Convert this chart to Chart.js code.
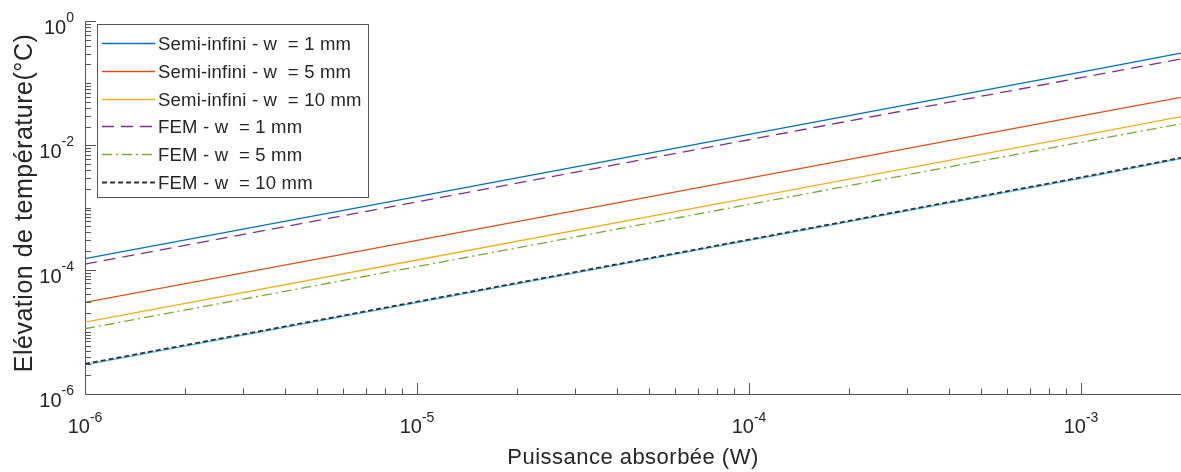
<!DOCTYPE html>
<html>
<head>
<meta charset="utf-8">
<script src="https://cdn.jsdelivr.net/npm/chart.js@4.4.1/dist/chart.umd.min.js"></script>
<style>
  body { margin: 0; background: #fff; }
  #wrap { width: 1181px; height: 472px; }
</style>
</head>
<body>
<div id="wrap"><canvas id="chart" width="1181" height="472"></canvas></div>
<script>
// puissance absorbee (W)
const powers = [1e-6, 1e-5, 1e-4, 1e-3, 2e-3];

// elevation de temperature (degC)
const semi1mm = [1.5e-4, 1.5e-3, 1.5e-2, 0.15, 0.305];
const semi5mm = [2.97e-5, 2.97e-4, 2.97e-3, 2.97e-2, 0.059];
const semi10mm = [1.43e-5, 1.43e-4, 1.43e-3, 1.43e-2, 0.029];
const fem1mm = [1.23e-4, 1.23e-3, 1.23e-2, 0.123, 0.245];
const fem5mm = [1.12e-5, 1.12e-4, 1.12e-3, 1.12e-2, 0.0222];
const fem10mm = [3.05e-6, 3.05e-5, 3.05e-4, 3.05e-3, 0.0063];
const hidden10mm = [2.95e-6, 2.95e-5, 2.95e-4, 2.95e-3, 0.0061];

const xTickExps = [-6, -5, -4, -3];
const yTickExps = [-6, -4, -2, 0];

const axisColor = "#555555";
const textColor = "#262626";

function pts(ys) {
  return powers.map((p, i) => ({ x: p, y: ys[i] }));
}

function ds(label, ys, color, dash, width) {
  return {
    label: label,
    data: pts(ys),
    borderColor: color,
    backgroundColor: color,
    borderDash: dash,
    borderWidth: width,
    pointRadius: 0,
    tension: 0,
    fill: false
  };
}

const datasets = [
  ds("Semi-infini - w  = 1 mm", semi1mm, "#0072BD", [], 1.3),
  ds("Semi-infini - w  = 5 mm", semi5mm, "#D95319", [], 1.3),
  ds("Semi-infini - w  = 10 mm", semi10mm, "#EDB120", [], 1.3),
  ds("FEM - w  = 1 mm", fem1mm, "#7E2F8E", [12, 7], 1.3),
  ds("FEM - w  = 5 mm", fem5mm, "#77AC30", [10, 4, 2, 4], 1.3),
  ds("FEM - w  = 10 mm", fem10mm, "#333333", [5, 3], 1.8),
  ds("", hidden10mm, "#4DBEEE", [], 1.2)
];

function fitText(ctx, text, font, target) {
  ctx.font = font;
  ctx.letterSpacing = "0px";
  const w = ctx.measureText(text).width;
  const sp = (target - w) / (text.length - 1);
  ctx.letterSpacing = sp.toFixed(2) + "px";
}

function powLabel(ctx, exp, px, py, align) {
  ctx.font = "20px 'Liberation Sans', Arial, sans-serif";
  const w10 = ctx.measureText("10").width;
  ctx.font = "14px 'Liberation Sans', Arial, sans-serif";
  const ex = String(exp);
  const wEx = ctx.measureText(ex).width;
  let x0;
  if (align === "x") {
    x0 = px - (w10 + wEx) / 2;
  } else {
    x0 = px - (w10 + wEx);
  }
  ctx.textAlign = "left";
  ctx.textBaseline = "alphabetic";
  ctx.font = "20px 'Liberation Sans', Arial, sans-serif";
  ctx.fillText("10", x0, py);
  ctx.font = "14px 'Liberation Sans', Arial, sans-serif";
  ctx.fillText(ex, x0 + w10, py - (align === "x" ? 11 : 12));
}

const decor = {
  id: "decor",
  afterDraw(chart) {
    const { ctx, chartArea } = chart;
    const x = chart.scales.x, y = chart.scales.y;
    ctx.save();

    // ticks pointing inward
    ctx.strokeStyle = axisColor;
    ctx.lineWidth = 1;
    ctx.beginPath();
    for (let e = -6; e <= -3; e++) {
      for (let m = 1; m <= 9; m++) {
        const v = m * Math.pow(10, e);
        if (v > x.max * 1.0001) break;
        const px = Math.round(x.getPixelForValue(v)) + 0.5;
        const len = m === 1 ? 11 : 5.5;
        ctx.moveTo(px, chartArea.bottom);
        ctx.lineTo(px, chartArea.bottom - len);
      }
    }
    for (let e = -6; e <= 0; e++) {
      for (let m = 1; m <= 9; m++) {
        const v = m * Math.pow(10, e);
        if (v > y.max * 1.0001) break;
        const py = Math.round(y.getPixelForValue(v)) + 0.5;
        const major = m === 1 && yTickExps.includes(e);
        const len = major ? 11 : 6;
        ctx.moveTo(chartArea.left, py);
        ctx.lineTo(chartArea.left + len, py);
      }
    }
    ctx.stroke();

    // tick labels
    ctx.fillStyle = textColor;
    xTickExps.forEach(e => {
      const px = x.getPixelForValue(Math.pow(10, e));
      powLabel(ctx, e, px, chartArea.bottom + 39, "x");
    });
    yTickExps.forEach(e => {
      const py = y.getPixelForValue(Math.pow(10, e));
      powLabel(ctx, e, chartArea.left - 11, py + 13, "y");
    });

    // axis titles
    const xt = "Puissance absorbée (W)";
    fitText(ctx, xt, "22px 'Liberation Sans', Arial, sans-serif", 251);
    ctx.textAlign = "center";
    ctx.textBaseline = "alphabetic";
    ctx.fillText(xt, (chartArea.left + chartArea.right) / 2, 464);

    const yt = "Elévation de température(°C)";
    fitText(ctx, yt, "25px 'Liberation Sans', Arial, sans-serif", 338);
    ctx.save();
    ctx.translate(32, 203);
    ctx.rotate(-Math.PI / 2);
    ctx.textAlign = "center";
    ctx.fillText(yt, 0, 0);
    ctx.restore();
    ctx.letterSpacing = "0px";

    // legend box
    const lx = 97.5, ly = 24.5, lw = 271, lh = 173;
    ctx.fillStyle = "#fff";
    ctx.fillRect(lx, ly, lw, lh);
    ctx.strokeStyle = axisColor;
    ctx.lineWidth = 1;
    ctx.setLineDash([]);
    ctx.strokeRect(lx, ly, lw, lh);

    const items = chart.data.datasets.filter(d => d.label);
    items.forEach((d, i) => {
      const ry = Math.round(43 + i * 27.8) + 0.5;
      ctx.strokeStyle = d.borderColor;
      ctx.lineWidth = d.borderWidth;
      ctx.setLineDash(d.borderDash);
      ctx.beginPath();
      ctx.moveTo(102, ry);
      ctx.lineTo(155, ry);
      ctx.stroke();
      ctx.setLineDash([]);
      ctx.fillStyle = textColor;
      ctx.font = "18.5px 'Liberation Sans', Arial, sans-serif";
      ctx.letterSpacing = "0.2px";
      ctx.textAlign = "left";
      ctx.textBaseline = "alphabetic";
      ctx.fillText(d.label, 158, ry + 6.5);
      ctx.letterSpacing = "0px";
    });

    ctx.restore();
  }
};

const chart = new Chart(document.getElementById("chart").getContext("2d"), {
  type: "line",
  data: { datasets: datasets },
  options: {
    responsive: false,
    animation: false,
    layout: { padding: { left: 85, top: 21, right: 0, bottom: 78 } },
    plugins: {
      legend: { display: false },
      tooltip: { enabled: false }
    },
    scales: {
      x: {
        type: "logarithmic",
        min: 1e-6,
        max: 2e-3,
        ticks: { display: false },
        grid: { display: false, drawTicks: false },
        border: { display: true, color: axisColor, width: 1 },
        afterFit: s => { s.height = 0; }
      },
      y: {
        type: "logarithmic",
        min: 1e-6,
        max: 1,
        ticks: { display: false },
        grid: { display: false, drawTicks: false },
        border: { display: true, color: axisColor, width: 1 },
        afterFit: s => { s.width = 0; }
      }
    }
  },
  plugins: [decor]
});
</script>
</body>
</html>
